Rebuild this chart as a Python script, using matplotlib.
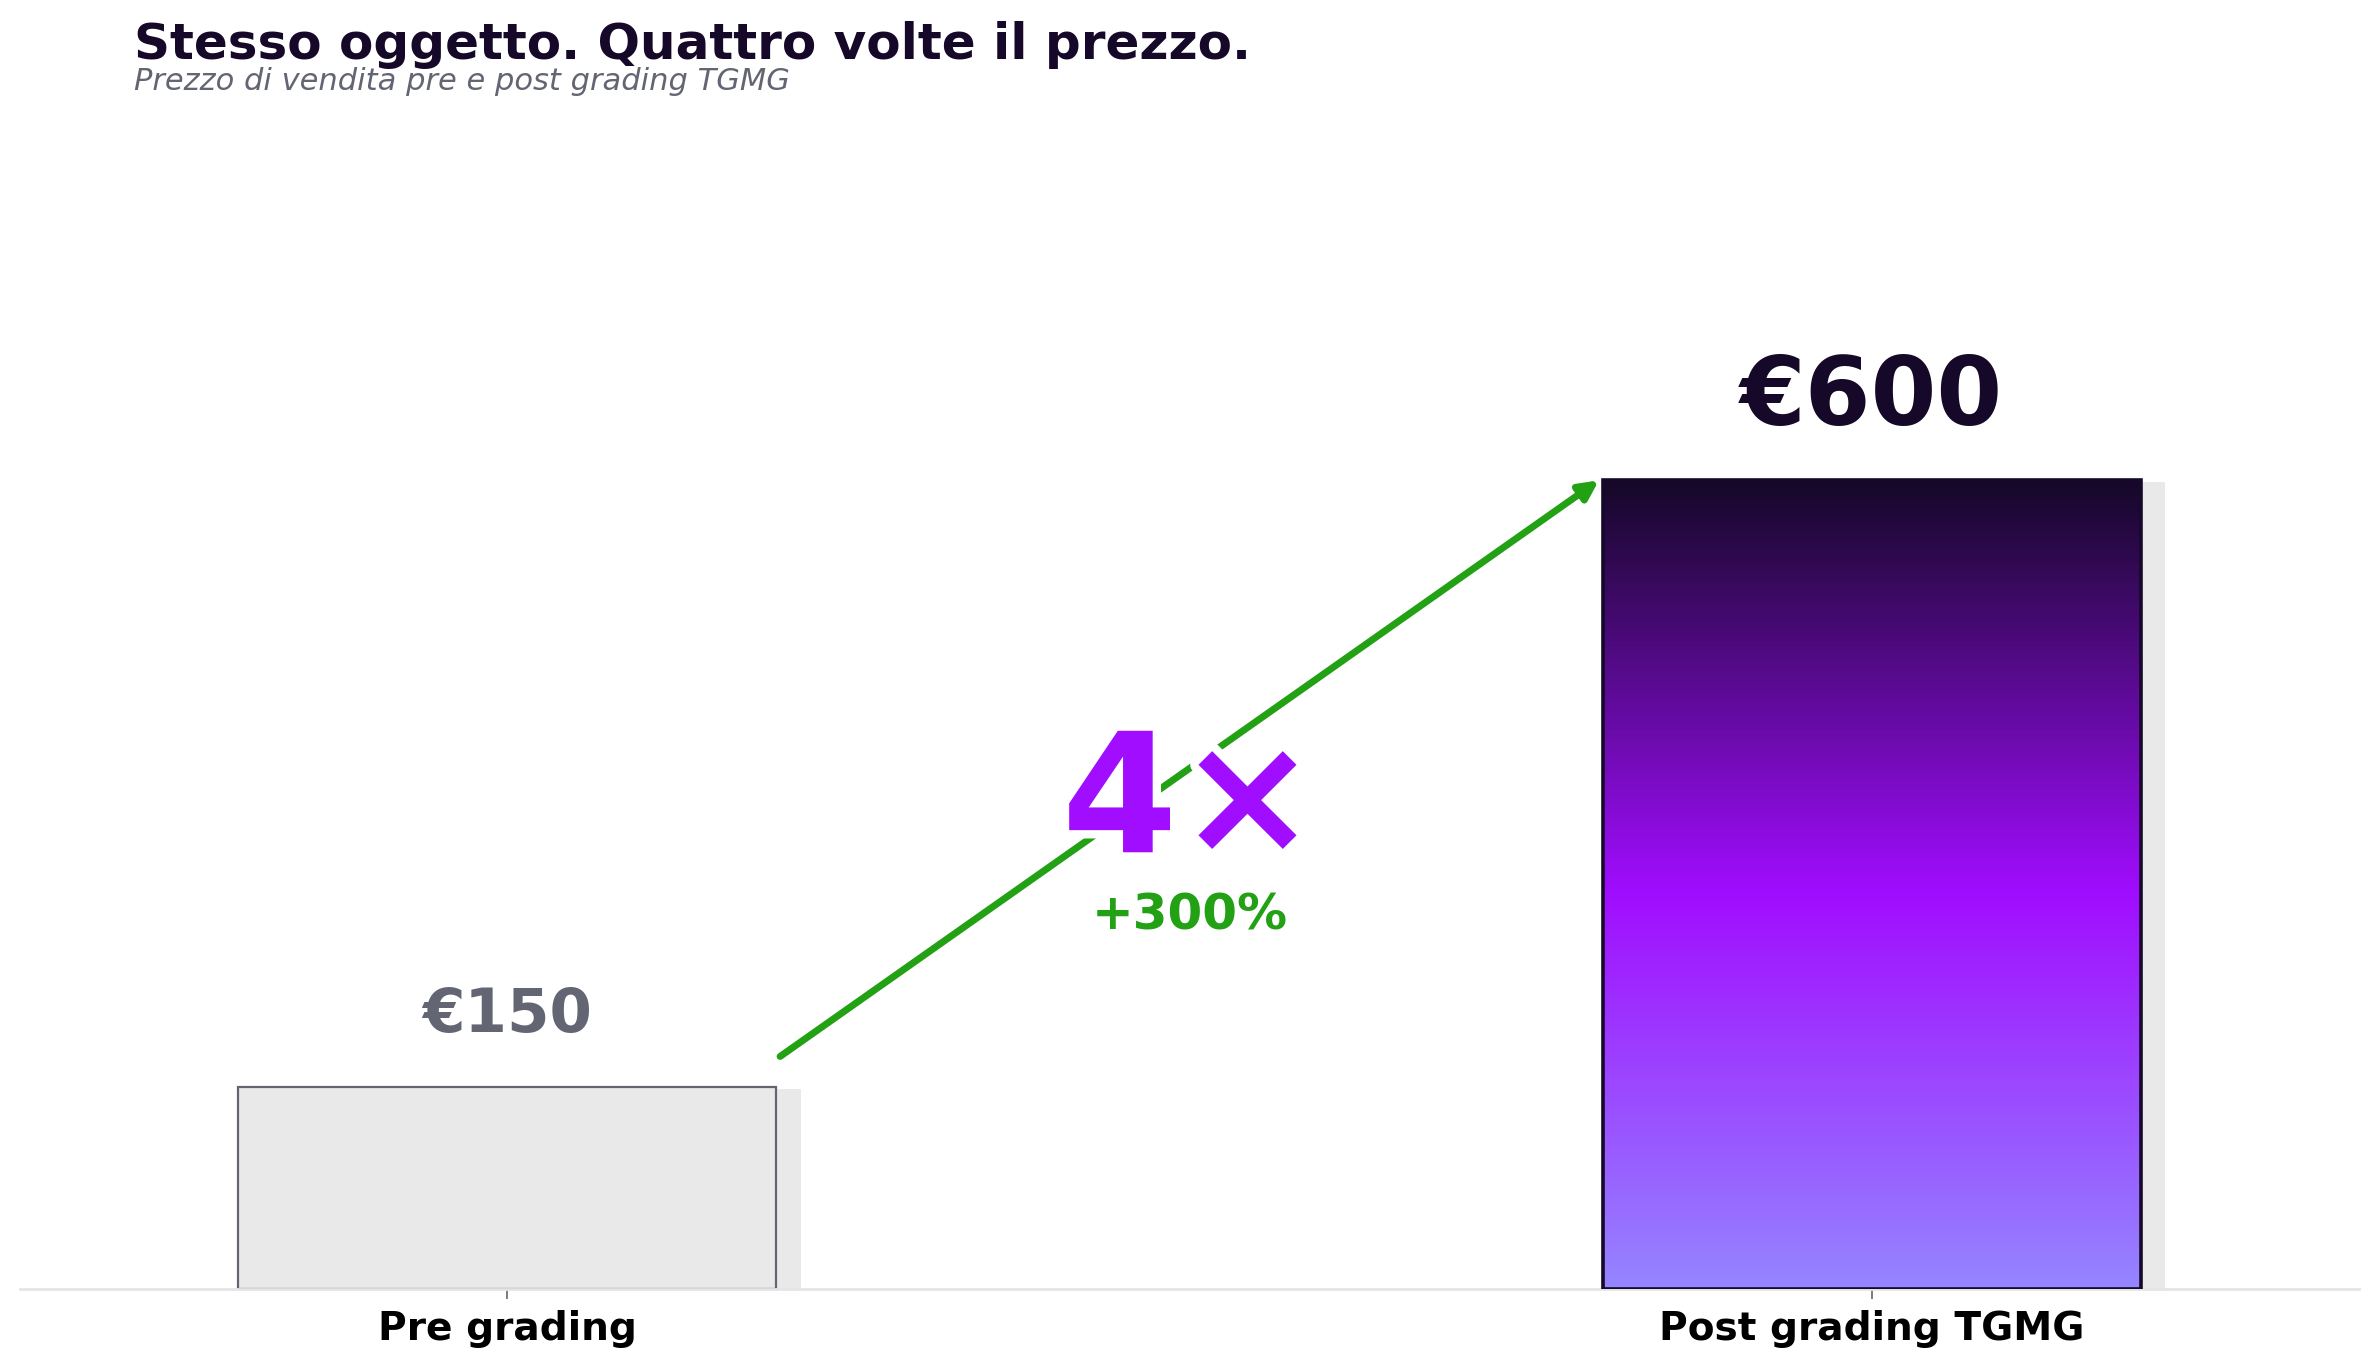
import matplotlib
matplotlib.use("Agg")
import matplotlib.pyplot as plt
import matplotlib.patheffects as pe
from matplotlib.patches import Rectangle, FancyArrowPatch
from matplotlib.colors import LinearSegmentedColormap
import numpy as np

# dati
categorie = ["Pre grading", "Post grading TGMG"]
prezzi = [150, 600]
etichette = ["€150", "€600"]
moltiplicatore = "4×"
aumento = "+300%"

titolo = "Stesso oggetto. Quattro volte il prezzo."
sottotitolo = "Prezzo di vendita pre e post grading TGMG"

# colori
scuro = "#150828"
viola = "#a10dff"
lavanda = "#9585ff"
grigio = "#636672"
verde = "#22a114"
chiaro = "#e9e9e9"

plt.rcParams['font.family'] = ['DejaVu Sans']

fig = plt.figure(figsize=(11.895, 6.835), dpi=200)
ax = fig.add_axes([0.0084, 0.0571, 0.9832, 0.769])

larghezza = 0.394
x = np.arange(len(categorie))

# ombre
for xi, v in zip(x, prezzi):
    ax.add_patch(Rectangle((xi - larghezza / 2 + 0.018, 0), larghezza, v - 1.5,
                           facecolor=chiaro, edgecolor='none', zorder=1))

# barra pre grading
ax.bar(x[0], prezzi[0], width=larghezza, color=chiaro, edgecolor=grigio,
       linewidth=0.8, zorder=2)

# barra post grading con gradiente
cmap = LinearSegmentedColormap.from_list("grad", [(0, lavanda), (0.49, viola), (1, scuro)])
grad = np.linspace(0, 1, 256).reshape(-1, 1)
ax.imshow(grad, cmap=cmap, origin='lower', aspect='auto', zorder=2,
          extent=[x[1] - larghezza / 2, x[1] + larghezza / 2, 0, prezzi[1]])
ax.add_patch(Rectangle((x[1] - larghezza / 2, 0), larghezza, prezzi[1],
                       facecolor='none', edgecolor=scuro, linewidth=1.3, zorder=3))
ax.set_xlim(-0.357, 1.357)
ax.set_ylim(0, prezzi[1] * 1.3)

# etichette dei valori
ax.text(x[0], prezzi[0] + 41, etichette[0], ha='center', va='baseline',
        fontsize=22, fontweight='bold', color=grigio)
ax.text(x[1], prezzi[1] + 41, etichette[1], ha='center', va='baseline',
        fontsize=34, fontweight='bold', color=scuro)

# freccia
freccia = FancyArrowPatch((x[0] + 0.2, prezzi[0] * 1.15), (x[1] - 0.2, prezzi[1]),
                          arrowstyle='-|>', mutation_scale=14, color=verde,
                          linewidth=2.5, capstyle='round', zorder=4,
                          shrinkA=0, shrinkB=0)
ax.add_patch(freccia)

# 4x e +300%
ax.text(0.5, 324, moltiplicatore, ha='center', va='baseline', fontsize=60,
        fontweight='bold', color=viola, zorder=5,
        path_effects=[pe.withStroke(linewidth=6, foreground='white')])
ax.text(0.5, 267, aumento, ha='center', va='baseline', fontsize=18,
        fontweight='bold', color=verde, zorder=5)

# assi
for s in ['left', 'top', 'right']:
    ax.spines[s].set_visible(False)
ax.spines['bottom'].set_color('#e5e5e5')
ax.spines['bottom'].set_linewidth(1)
ax.set_yticks([])
ax.set_xticks(x)
ax.set_xticklabels(categorie, fontsize=14.1, fontweight='bold', color='black')
ax.tick_params(axis='x', length=3.5, width=0.6, color=grigio, pad=4)

# titoli
fig.text(0.0563, 1 - 59 / 1367, titolo, fontsize=18, fontweight='bold',
         color=scuro, va='baseline')
fig.text(0.0563, 1 - 89.5 / 1367, sottotitolo, fontsize=11, style='italic',
         color=grigio, va='baseline')

fig.savefig("out.png", dpi=200)
